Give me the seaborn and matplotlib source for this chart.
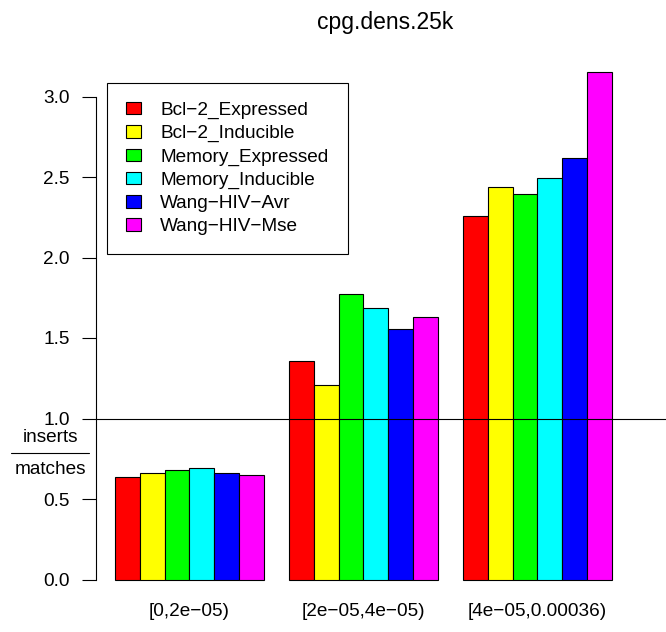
import matplotlib
matplotlib.use("Agg")
import matplotlib.pyplot as plt
from matplotlib.lines import Line2D
import seaborn as sns
import pandas as pd

# CpG density bins and cell populations
bins = ["[0,2e\u221205)", "[2e\u221205,4e\u221205)", "[4e\u221205,0.00036)"]
groups = ["Bcl\u22122_Expressed", "Bcl\u22122_Inducible", "Memory_Expressed",
          "Memory_Inducible", "Wang\u2212HIV\u2212Avr", "Wang\u2212HIV\u2212Mse"]
colors = ["#FF0000", "#FFFF00", "#00FF00", "#00FFFF", "#0000FF", "#FF00FF"]

# insert / match ratio per bin, one list per population
bcl2_expressed = [0.638, 1.358, 2.255]
bcl2_inducible = [0.660, 1.211, 2.435]
memory_expressed = [0.681, 1.776, 2.395]
memory_inducible = [0.691, 1.685, 2.495]
wang_avr = [0.660, 1.559, 2.615]
wang_mse = [0.646, 1.629, 3.155]

series = [bcl2_expressed, bcl2_inducible, memory_expressed,
          memory_inducible, wang_avr, wang_mse]
df = pd.DataFrame(
    [(b, g, v) for g, vals in zip(groups, series) for b, v in zip(bins, vals)],
    columns=["bin", "group", "ratio"],
)

sns.set_theme(style="white")
plt.rcParams["font.family"] = ["Liberation Sans", "DejaVu Sans"]
plt.rcParams["text.color"] = "black"
plt.rcParams["xtick.color"] = "black"
plt.rcParams["ytick.color"] = "black"
FS = 13.7

W, H = 666, 632
fig = plt.figure(figsize=(W / 100, H / 100), dpi=100)
ax_left, ax_right, ax_top, ax_bot = 96, 666, 51, 600
ax = fig.add_axes([ax_left / W, 1 - ax_bot / H,
                   (ax_right - ax_left) / W, (ax_bot - ax_top) / H])

sns.barplot(data=df, x="bin", y="ratio", hue="group", order=bins,
            hue_order=groups, palette=colors, width=6 / 7, gap=0,
            edgecolor="black", linewidth=0.8, saturation=1, ax=ax,
            errorbar=None)

# x limits: group centres sit at 0,1,2 (174 px apart, first at 189 px)
px_unit = 174.0
x0_px = 189.4
ax.set_xlim((ax_left - x0_px) / px_unit, (ax_right - x0_px) / px_unit)
zero_px, px_per = 579.5, 161.0
ax.set_ylim(-(ax_bot - zero_px) / px_per, (zero_px - ax_top) / px_per)

ax.axhline(1.0, color="black", linewidth=0.8, zorder=5)

for s in ["top", "right", "bottom"]:
    ax.spines[s].set_visible(False)
ax.spines["left"].set_bounds(0, 3.0)
ax.spines["left"].set_linewidth(0.8)
ax.spines["left"].set_color("black")
ax.set_yticks([0, 0.5, 1.0, 1.5, 2.0, 2.5, 3.0])
ax.set_yticklabels(["0.0", "0.5", "1.0", "1.5", "2.0", "2.5", "3.0"])
ax.tick_params(axis="y", which="major", length=10, width=0.8, color="black",
               pad=9, labelsize=FS, labelcolor="black", left=True,
               direction="out")
ax.tick_params(axis="x", length=0, pad=2, labelsize=FS, labelcolor="black")
ax.set_xlabel("")
ax.set_ylabel("")

handles, labels = ax.get_legend_handles_labels()
leg = ax.legend(handles, labels, loc="upper left",
                bbox_to_anchor=(107 / W, 1 - 83 / H),
                bbox_transform=fig.transFigure, fontsize=FS,
                frameon=True, fancybox=False, framealpha=1,
                edgecolor="black", handlelength=0.8, handleheight=0.62,
                handletextpad=1.0, labelspacing=0.32, borderpad=1.0,
                borderaxespad=0)
leg.get_frame().set_linewidth(0.8)
for h in leg.legend_handles:
    h.set_edgecolor("black")
    h.set_linewidth(0.8)
for t in leg.get_texts():
    t.set_color("black")

# title and stacked y label
fig.text(385 / W, 1 - 22 / H, "cpg.dens.25k", ha="center", va="center",
         fontsize=FS * 1.2)
fig.text(50 / W, 1 - 437 / H, "inserts", ha="center", va="center", fontsize=FS)
fig.text(50 / W, 1 - 469 / H, "matches", ha="center", va="center", fontsize=FS)
fig.add_artist(Line2D([11 / W, 89 / W], [1 - 453 / H, 1 - 453 / H],
                      transform=fig.transFigure, color="black", linewidth=0.8))

fig.savefig("out.png", dpi=100)
